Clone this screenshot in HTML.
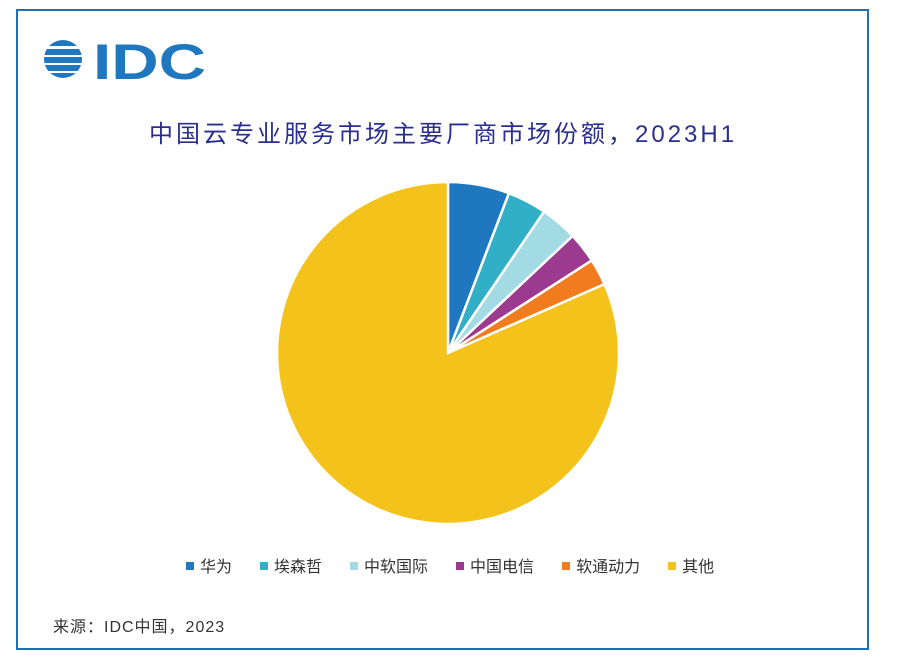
<!DOCTYPE html>
<html><head><meta charset="utf-8"><style>
body{margin:0;width:904px;height:663px;background:#fff;position:relative;overflow:hidden;font-family:"Liberation Sans","Noto Sans CJK SC",sans-serif}
.frame{position:absolute;left:16px;top:9px;width:849px;height:637px;border:2px solid #1f6fb5}
.t{position:absolute;white-space:nowrap}
</style></head><body>
<div class="frame"></div>
<svg style="position:absolute;left:44px;top:33px" width="175" height="55">
<clipPath id="c"><circle cx="19" cy="26" r="19"/></clipPath>
<g clip-path="url(#c)" fill="#1f78bf">
<rect x="0" y="7" width="38" height="6"/><rect x="0" y="16" width="38" height="6"/><rect x="0" y="24" width="38" height="6"/><rect x="0" y="32" width="38" height="6"/><rect x="0" y="40" width="38" height="6"/></g>
<text x="49" y="46" font-family="Liberation Sans" font-weight="bold" font-size="50" fill="#1f78bf" textLength="113" lengthAdjust="spacingAndGlyphs">IDC</text>
</svg>
<div class="t" style="left:149px;top:114px;font-size:24px;letter-spacing:3px;color:#2a2f8f">中国云专业服务市场主要厂商市场份额，2023H1</div>
<svg id="pie" style="position:absolute;left:0;top:0" width="904" height="663"></svg>
<div id="legend" class="t" style="left:186px;top:553px;font-size:16px;color:#333;display:flex;gap:0"></div>
<div class="t" style="left:53px;top:613px;font-size:16px;letter-spacing:1px;color:#333">来源：IDC中国，2023</div>
<script>
const categories=["华为","埃森哲","中软国际","中国电信","软通动力","其他"];
const values=[5.8,3.7,3.5,2.9,2.5,81.6];
const colors=["#1f78bf","#31afc6","#a2dbe4","#9b3a8f","#f07c1e","#f3c21b"];
const svg=document.getElementById('pie');const NS="http://www.w3.org/2000/svg";
const cx=448,cy=353,r=171;const total=values.reduce((a,b)=>a+b,0);
let a0=0;
values.forEach((v,i)=>{const a1=a0+v/total*2*Math.PI;
const p=(a)=>[cx+r*Math.sin(a),cy-r*Math.cos(a)];
const [x0,y0]=p(a0),[x1,y1]=p(a1);
const path=document.createElementNS(NS,'path');
path.setAttribute('d',`M${cx},${cy}L${x0},${y0}A${r},${r} 0 ${a1-a0>Math.PI?1:0} 1 ${x1},${y1}Z`);
path.setAttribute('fill',colors[i]);path.setAttribute('stroke','#fff');path.setAttribute('stroke-width','2.5');


svg.appendChild(path);a0=a1;});
const lg=document.getElementById('legend');
categories.forEach((c,i)=>{const s=document.createElement('span');


s.style.marginRight='28px';
s.innerHTML=`<span style="display:inline-block;width:8px;height:8px;background:${colors[i]};margin-right:6px;vertical-align:2px"></span>${c}`;
lg.appendChild(s);});
</script>
</body></html>
